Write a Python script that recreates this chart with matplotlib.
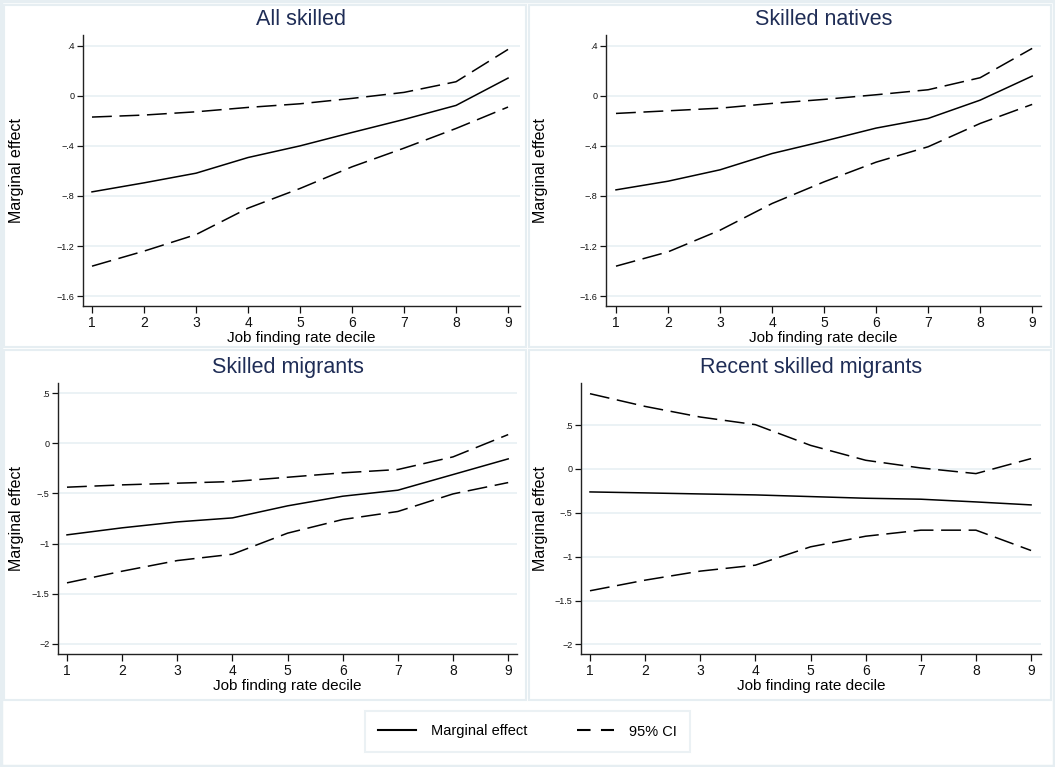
import numpy as np
import matplotlib
matplotlib.use("Agg")
import matplotlib.pyplot as plt
from matplotlib.patches import Rectangle
from matplotlib.lines import Line2D

plt.rcParams['font.family'] = ['Liberation Sans', 'DejaVu Sans']

# =====================
# DATA
# =====================
deciles = [1, 2, 3, 4, 5, 6, 7, 8, 9]

titles = ["All skilled", "Skilled natives", "Skilled migrants", "Recent skilled migrants"]

# marginal effects
me_all = [-0.767, -0.695, -0.618, -0.493, -0.400, -0.293, -0.189, -0.077, 0.141]
me_nat = [-0.751, -0.682, -0.591, -0.461, -0.362, -0.258, -0.181, -0.035, 0.157]
me_mig = [-0.913, -0.843, -0.784, -0.744, -0.624, -0.528, -0.468, -0.312, -0.156]
me_rec = [-0.262, -0.273, -0.285, -0.296, -0.315, -0.334, -0.345, -0.376, -0.410]

# upper 95% CI
hi_all = [-0.170, -0.154, -0.128, -0.093, -0.064, -0.021, 0.027, 0.112, 0.370]
hi_nat = [-0.141, -0.120, -0.099, -0.061, -0.029, 0.008, 0.048, 0.144, 0.378]
hi_mig = [-0.438, -0.415, -0.398, -0.382, -0.339, -0.295, -0.262, -0.136, 0.086]
hi_rec = [0.858, 0.713, 0.592, 0.505, 0.269, 0.099, 0.011, -0.053, 0.118]

# lower 95% CI
lo_all = [-1.360, -1.240, -1.108, -0.897, -0.740, -0.567, -0.418, -0.261, -0.090]
lo_nat = [-1.360, -1.246, -1.073, -0.860, -0.687, -0.530, -0.407, -0.221, -0.069]
lo_mig = [-1.391, -1.275, -1.169, -1.106, -0.896, -0.760, -0.680, -0.505, -0.392]
lo_rec = [-1.389, -1.268, -1.165, -1.097, -0.888, -0.767, -0.698, -0.698, -0.930]

yticks_a = [0.4, 0, -0.4, -0.8, -1.2, -1.6]
ylabels_a = [".4", "0", "\u2212.4", "\u2212.8", "\u22121.2", "\u22121.6"]
yticks_b = [0.5, 0, -0.5, -1, -1.5, -2]
ylabels_b = [".5", "0", "\u2212.5", "\u22121", "\u22121.5", "\u22122"]

# =====================
# LAYOUT (pixels)
# =====================
W, H = 1055, 767
fig = plt.figure(figsize=(W / 100, H / 100), dpi=100)
fig.patch.set_facecolor("white")

def px_rect(l, t, r, b):
    return [l / W, 1 - b / H, (r - l) / W, (b - t) / H]

panels = [
    dict(rect=px_rect(83, 35, 520, 306), xlim=(0.827, 9.23), ylim=(-1.678, 0.485),
         yt=yticks_a, yl=ylabels_a, me=me_all, hi=hi_all, lo=lo_all, ylab_x=17),
    dict(rect=px_rect(606, 35, 1041, 306), xlim=(0.808, 9.17), ylim=(-1.678, 0.485),
         yt=yticks_a, yl=ylabels_a, me=me_nat, hi=hi_nat, lo=lo_nat, ylab_x=541),
    dict(rect=px_rect(58, 383, 517, 654), xlim=(0.837, 9.16), ylim=(-2.1, 0.6),
         yt=yticks_b, yl=ylabels_b, me=me_mig, hi=hi_mig, lo=lo_mig, ylab_x=17),
    dict(rect=px_rect(581, 383, 1041, 654), xlim=(0.837, 9.18), ylim=(-2.11, 0.98),
         yt=yticks_b, yl=ylabels_b, me=me_rec, hi=hi_rec, lo=lo_rec, ylab_x=541),
]

grid_col = "#e8f0f3"
title_col = "#1f2d56"
dash = (0, (13, 5))

for p, title in zip(panels, titles):
    ax = fig.add_axes(p["rect"])
    ax.set_facecolor("white")
    ax.plot(deciles, p["me"], color="black", lw=1.1)
    ax.plot(deciles, p["hi"], color="black", lw=1.1, linestyle=dash)
    ax.plot(deciles, p["lo"], color="black", lw=1.1, linestyle=dash)

    ax.set_xlim(*p["xlim"])
    ax.set_ylim(*p["ylim"])
    ax.set_xticks(deciles)
    ax.set_yticks(p["yt"])
    ax.set_yticklabels(p["yl"])
    ax.grid(axis="y", color=grid_col, lw=1.2)
    ax.set_axisbelow(True)

    for s in ["top", "right"]:
        ax.spines[s].set_visible(False)
    for s in ["left", "bottom"]:
        ax.spines[s].set_color("#222222")
        ax.spines[s].set_linewidth(1.0)

    ax.tick_params(axis="x", labelsize=10, length=5, width=0.9, pad=2, colors="#111111")
    ax.tick_params(axis="y", labelsize=6.5, length=4, width=0.9, pad=2, colors="#111111")

    ax.set_title(title, fontsize=15.5, color=title_col, pad=7)
    ax.set_xlabel("Job finding rate decile", fontsize=11, labelpad=1)
    ax.set_ylabel("Marginal effect", fontsize=11.5, va="center")
    l = p["rect"][0] * W
    w = p["rect"][2] * W
    ax.yaxis.set_label_coords((p["ylab_x"] - l) / w, 0.5)

# =====================
# PANEL FRAMES
# =====================
frame_col = "#e6eef2"
for (l, t, r, b) in [(4, 5, 526, 347), (529, 5, 1051, 347),
                     (4, 350, 526, 700), (529, 350, 1051, 700)]:
    fig.patches.append(Rectangle((l / W, 1 - b / H), (r - l) / W, (b - t) / H,
                                 transform=fig.transFigure, fill=False,
                                 edgecolor=frame_col, lw=1.5))
fig.patches.append(Rectangle((0.001, 0.001), 0.998, 0.998, transform=fig.transFigure,
                             fill=False, edgecolor=frame_col, lw=2.5))

# =====================
# LEGEND
# =====================
handles = [
    Line2D([0], [0], color="black", lw=1.5, label="Marginal effect"),
    Line2D([0], [0], color="black", lw=1.5, linestyle=(0, (6.5, 5)), label="95% CI"),
]
leg = fig.legend(handles=handles, loc="center", bbox_to_anchor=(0.5, 1 - 731.5 / H),
                 ncol=2, fontsize=10.5, frameon=True, fancybox=False,
                 handlelength=2.6, handletextpad=1.0, columnspacing=3.4,
                 borderpad=0.9)
leg.get_frame().set_edgecolor(frame_col)
leg.get_frame().set_linewidth(1.5)

plt.savefig("out.png", dpi=100, facecolor="white")
